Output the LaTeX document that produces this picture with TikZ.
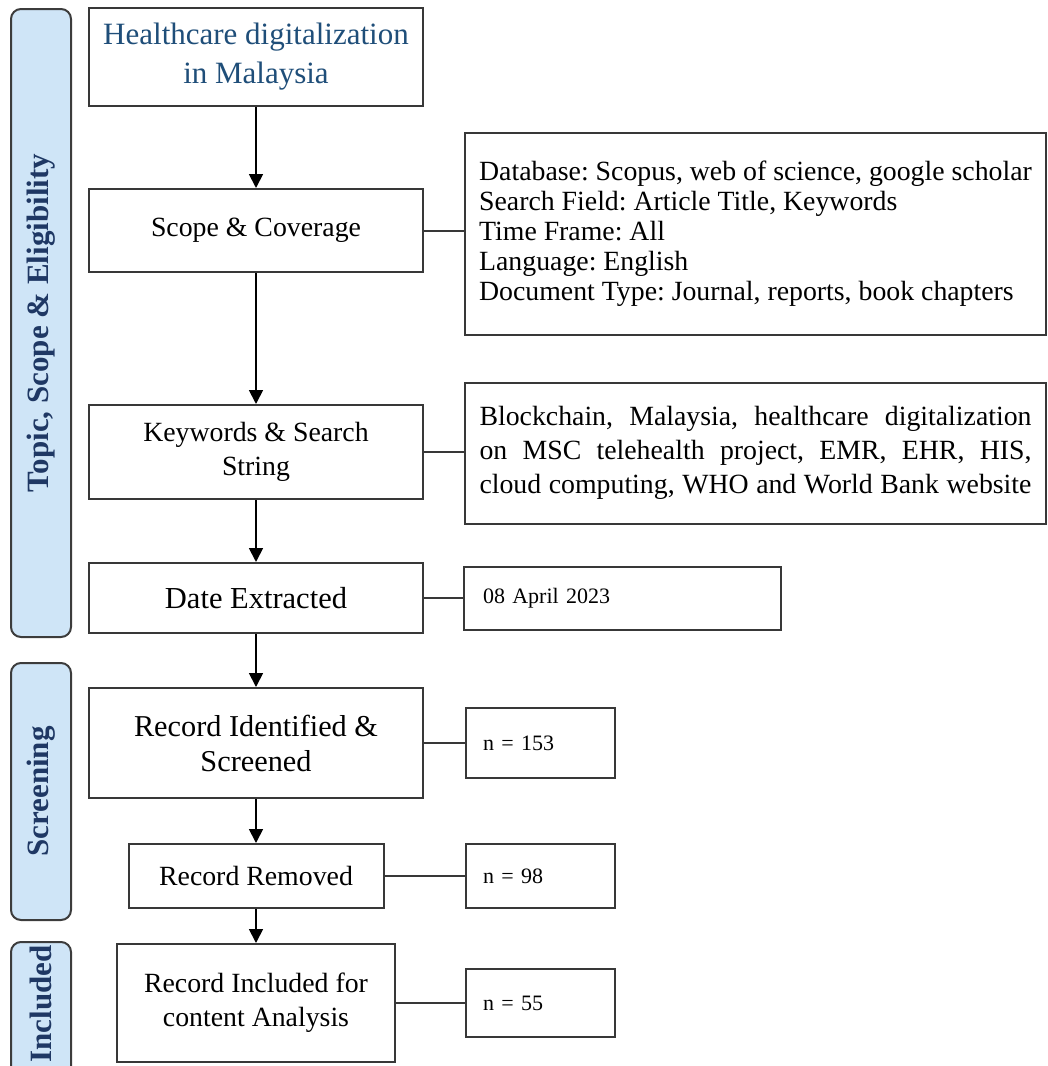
\documentclass[tikz,border=0pt]{standalone}
\usepackage{fontspec}
\setmainfont{Liberation Serif}
\usetikzlibrary{arrows.meta}
\definecolor{barfill}{HTML}{CFE5F7}
\definecolor{barline}{HTML}{3C3C3C}
\definecolor{bartext}{HTML}{1F3864}
\definecolor{titleblue}{HTML}{1F4E79}
\definecolor{boxline}{HTML}{383838}
\begin{document}
\frenchspacing
\begin{tikzpicture}[x=1pt,y=-1pt,
  mainbox/.style={draw=boxline, line width=2pt, fill=white, align=center, inner sep=0pt},
  infobox/.style={draw=boxline, line width=2pt, fill=white, align=left, inner sep=0pt},
  bigtxt/.style={font=\fontsize{27.8}{34}\selectfont},
  smalltxt/.style={font=\fontsize{22}{26}\selectfont},
  bar/.style={draw=barline, line width=2pt, fill=barfill, rounded corners=10pt, inner sep=0pt, minimum width=60pt},
  barlabel/.style={rotate=90, text=bartext, inner sep=0pt, font=\fontsize{31}{36}\selectfont\bfseries},
  flow/.style={-{Triangle[length=14pt,width=14pt]}, line width=1.8pt, black},
  link/.style={line width=2pt, boxline}]
\useasboundingbox (0,0) rectangle (1048,1066);
\clip (0,0) rectangle (1048,1066);

% side bars
\node[bar, minimum height=628pt] (bar1) at (41,323) {};
\node[barlabel] (lab1) at (bar1.center) {Topic, Scope \& Eligibility};
\node[bar, minimum height=257pt] (bar2) at (41,791.5) {};
\node[barlabel] (lab2) at (bar2.center) {Screening};
\node[bar, minimum height=150pt] (bar3) at (41,1017) {};
\node[barlabel] (lab3) at (41,1004) {Included};

% main column
\node[mainbox, minimum width=334pt, minimum height=98pt, text=titleblue,
      font=\fontsize{31}{39}\selectfont] (topic) at (256,57) {Healthcare digitalization\\in Malaysia};
\node[mainbox, bigtxt, minimum width=334pt, minimum height=83pt] (scope) at (256,230.5) {Scope \& Coverage};
\node[mainbox, bigtxt, minimum width=334pt, minimum height=94pt] (kw) at (256,452) {Keywords \& Search\\String};
\node[mainbox, font=\fontsize{30.5}{36}\selectfont, minimum width=334pt, minimum height=70pt] (date) at (256,598) {Date Extracted};
\node[mainbox, font=\fontsize{30.3}{35}\selectfont, minimum width=334pt, minimum height=110pt] (ident) at (256,743) {Record Identified \&\\Screened};
\node[mainbox, bigtxt, minimum width=255pt, minimum height=64pt] (removed) at (256,876) {Record Removed};
\node[mainbox, bigtxt, minimum width=278pt, minimum height=118pt] (incl) at (256,1003) {Record Included for\\content Analysis};

% right column
\node[infobox, font=\fontsize{27.8}{30}\selectfont, minimum width=581pt, minimum height=202pt] (scopeinfo) at (755.5,234)
  {Database: Scopus, web of science, google scholar\\
   Search Field: Article Title, Keywords\\
   Time Frame: All\\
   Language: English\\
   Document Type: Journal, reports, book chapters};
\node[infobox, font=\fontsize{27.8}{34}\selectfont, minimum width=581pt, minimum height=141pt] (kwinfo) at (755.5,453)
  {\makebox[552pt][s]{Blockchain, Malaysia, healthcare digitalization}\\
   \makebox[552pt][s]{on MSC telehealth project, EMR, EHR, HIS,}\\
   \makebox[552pt][s]{cloud computing, WHO and World Bank website}};
\node[infobox, smalltxt, text width=279pt, minimum width=317pt, minimum height=63pt] (dateinfo) at (622.5,598.5) {08 April 2023};
\node[infobox, smalltxt, text width=115pt, minimum width=149pt, minimum height=70pt] (n1) at (540.5,743) {n = 153};
\node[infobox, smalltxt, text width=115pt, minimum width=149pt, minimum height=64pt] (n2) at (540.5,876) {n = 98};
\node[infobox, smalltxt, text width=115pt, minimum width=149pt, minimum height=68pt] (n3) at (540.5,1003) {n = 55};

% arrows
\draw[flow] (topic.south) -- (scope.north);
\draw[flow] (scope.south) -- (kw.north);
\draw[flow] (kw.south) -- (date.north);
\draw[flow] (date.south) -- (ident.north);
\draw[flow] (ident.south) -- (removed.north);
\draw[flow] (removed.south) -- (incl.north);

% links
\draw[link] (scope.east) -- (scope.east -| scopeinfo.west);
\draw[link] (kw.east) -- (kw.east -| kwinfo.west);
\draw[link] (date.east) -- (date.east -| dateinfo.west);
\draw[link] (ident.east) -- (n1.west);
\draw[link] (removed.east) -- (n2.west);
\draw[link] (incl.east) -- (n3.west);
\end{tikzpicture}
\end{document}
